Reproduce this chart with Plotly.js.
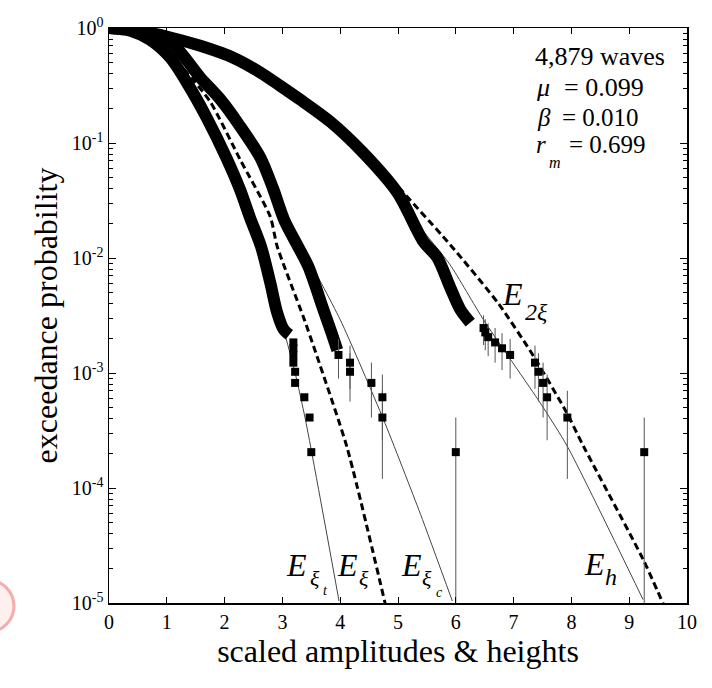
<!DOCTYPE html>
<html>
<head>
<meta charset="utf-8">
<script src="https://cdn.plot.ly/plotly-3.0.1.min.js"></script>
<style>html,body{margin:0;padding:0;background:#fff;}#chart{width:712px;height:688px;}</style>
</head>
<body>
<div id="chart"></div>
<script>
// ---------- data ----------
// empirical exceedance, dense part (troughs, crests, heights)
const troughX = [0, 0.37, 0.71, 1.06, 1.37, 1.69, 2.03, 2.27, 2.44, 2.63, 2.79, 2.91, 3.02, 3.12];
const troughP = [1.0, 0.947, 0.79, 0.552, 0.321, 0.166, 0.0745, 0.039, 0.0224, 0.0126, 0.0061, 0.00334, 0.0024, 0.00215];
const troughTailX = [3.19, 3.19, 3.19, 3.19, 3.22, 3.22, 3.38, 3.47, 3.50];
const troughTailP = [1.845e-3, 1.64e-3, 1.435e-3, 1.23e-3, 1.025e-3, 8.2e-4, 6.15e-4, 4.1e-4, 2.05e-4];

const crestX = [0, 0.54, 1.06, 1.58, 1.93, 2.25, 2.62, 2.84, 3.03, 3.27, 3.45, 3.71, 3.85, 3.95];
const crestP = [1.0, 0.95, 0.76, 0.37, 0.238, 0.144, 0.0745, 0.040, 0.0215, 0.0126, 0.0084, 0.00355, 0.00224, 0.00158];
const crestTailX = [3.97, 4.17, 4.17, 4.54, 4.73, 4.73, 6.0];
const crestTailP = [1.435e-3, 1.23e-3, 1.025e-3, 8.2e-4, 6.15e-4, 4.1e-4, 2.05e-4];
const crestTailErrUp = [5.4e-4, 5.0e-4, 4.6e-4, 4.1e-4, 3.55e-4, 2.9e-4, 2.05e-4];
const crestTailErrDn = [5.4e-4, 5.0e-4, 4.6e-4, 4.1e-4, 3.55e-4, 2.9e-4, 2.04e-4];

const heightX = [0, 0.42, 1.01, 1.58, 2.15, 2.62, 2.96, 3.31, 3.83, 4.40, 4.99, 5.44, 5.68, 5.90, 6.08, 6.25];
const heightP = [1.0, 0.966, 0.84, 0.70, 0.552, 0.41, 0.315, 0.238, 0.153, 0.082, 0.037, 0.0139, 0.0101, 0.0056, 0.00355, 0.00274];
const heightTailX = [6.48, 6.51, 6.56, 6.68, 6.80, 6.94, 7.37, 7.43, 7.51, 7.58, 7.93, 9.26];
const heightTailP = [2.46e-3, 2.255e-3, 2.05e-3, 1.845e-3, 1.64e-3, 1.435e-3, 1.23e-3, 1.025e-3, 8.2e-4, 6.15e-4, 4.1e-4, 2.05e-4];
const heightTailErrUp = [7.1e-4, 6.8e-4, 6.5e-4, 6.15e-4, 5.8e-4, 5.4e-4, 5.0e-4, 4.6e-4, 4.1e-4, 3.55e-4, 2.9e-4, 2.05e-4];
const heightTailErrDn = [7.1e-4, 6.8e-4, 6.5e-4, 6.15e-4, 5.8e-4, 5.4e-4, 5.0e-4, 4.6e-4, 4.1e-4, 3.55e-4, 2.9e-4, 2.04e-4];

// theoretical curves
const eXiX = [0, 0.37, 0.89, 1.32, 1.75, 2.27, 2.79, 2.91, 3.36, 3.60, 4.12, 4.78];
const eXiP = [1.0, 0.93, 0.69, 0.425, 0.229, 0.0716, 0.0229, 0.0126, 0.0031, 0.00139, 2.24e-4, 9.8e-6];
const eXiTX = [0, 0.71, 1.37, 2.03, 2.44, 2.79, 3.02, 3.22, 3.40, 3.98];
const eXiTP = [1.0, 0.79, 0.321, 0.0745, 0.0224, 0.0061, 0.0024, 1.0e-3, 3.9e-4, 1.04e-5];
const eXiCX = [0, 0.54, 1.06, 1.58, 2.25, 2.84, 3.03, 3.36, 4.00, 4.75, 5.39, 5.94];
const eXiCP = [1.0, 0.95, 0.76, 0.37, 0.144, 0.040, 0.023, 0.0118, 0.00291, 3.93e-4, 5.9e-5, 1.04e-5];
const eHX = [0, 1.01, 2.15, 2.96, 3.83, 4.40, 4.99, 5.35, 5.90, 6.48, 7.46, 7.93, 9.24];
const eHP = [1.0, 0.86, 0.56, 0.32, 0.155, 0.085, 0.037, 0.0195, 0.00875, 0.0029, 5.5e-4, 2.3e-4, 1.07e-5];
const e2XiX = [0, 0.96, 1.96, 2.96, 4.0, 4.57, 5.90, 6.74, 7.35, 7.92, 8.21, 9.24, 9.59];
const e2XiP = [1.0, 0.91, 0.62, 0.33, 0.139, 0.0716, 0.0131, 0.0040, 1.39e-3, 4.5e-4, 2.3e-4, 2.4e-5, 9.8e-6];

// axis ticks
const yTickVals = [1, 0.1, 0.01, 0.001, 1e-4, 1e-5];
const yTickText = ['10<sup>0</sup>', '10<sup>-1</sup>', '10<sup>-2</sup>', '10<sup>-3</sup>', '10<sup>-4</sup>', '10<sup>-5</sup>'];
const xTickVals = [0, 1, 2, 3, 4, 5, 6, 7, 8, 9, 10];

// ---------- drawing ----------
const FONT = 'Liberation Serif, Times New Roman, serif';
const thin = {color: '#444', width: 1, shape: 'spline', smoothing: 0.6};
const dashed = {color: '#000', width: 3, dash: '7px,4px', shape: 'spline', smoothing: 0.6};
const band = {color: '#000', width: 12, shape: 'spline', smoothing: 0.8};

const traces = [
  {x: eXiTX, y: eXiTP, mode: 'lines', line: thin},
  {x: eXiCX, y: eXiCP, mode: 'lines', line: thin},
  {x: eHX, y: eHP, mode: 'lines', line: thin},
  {x: eXiX, y: eXiP, mode: 'lines', line: dashed},
  {x: e2XiX, y: e2XiP, mode: 'lines', line: dashed},
  {x: troughX, y: troughP, mode: 'lines', line: band},
  {x: crestX, y: crestP, mode: 'lines', line: band},
  {x: heightX, y: heightP, mode: 'lines', line: band},
  {x: troughTailX, y: troughTailP, mode: 'markers', marker: {symbol: 'square', size: 8, color: '#000'}},
  {x: crestTailX, y: crestTailP, mode: 'markers', marker: {symbol: 'square', size: 8, color: '#000'},
   error_y: {type: 'data', symmetric: false, array: crestTailErrUp, arrayminus: crestTailErrDn, color: '#555', thickness: 1, width: 0}},
  {x: heightTailX, y: heightTailP, mode: 'markers', marker: {symbol: 'square', size: 8, color: '#000'},
   error_y: {type: 'data', symmetric: false, array: heightTailErrUp, arrayminus: heightTailErrDn, color: '#555', thickness: 1, width: 0}}
];
traces.forEach(t => { t.hoverinfo = 'skip'; t.showlegend = false; });

// plot box in pixels (for placing text)
const L = 109, R = 687, T = 28, B = 603;
const px = v => (v - L) / (R - L);
const py = v => (B - v) / (B - T);
function ann(text, x, y, size, italic) {
  const f = {family: FONT, size: size, color: '#000'};
  if (italic) f.style = 'italic';
  return {text: text, xref: 'paper', yref: 'paper', x: px(x), y: py(y),
    xanchor: 'center', yanchor: 'middle', showarrow: false, borderpad: 0, font: f};
}

const minorVals = [];
for (let e = -5; e < 0; e++) for (let m = 2; m <= 9; m++) minorVals.push(m * Math.pow(10, e));

const annotations = [
  ann('4,879 waves', 600, 57, 26),
  ann('μ', 543, 88, 26, true), ann('= 0.099', 604, 88, 26),
  ann('β', 544, 118, 25, true), ann('= 0.010', 600, 118, 25),
  ann('r', 541, 144, 25, true), ann('m', 555, 162, 16, true), ann('= 0.699', 607, 144, 25),
  // curve labels
  ann('E', 296, 565, 32, true), ann('ξ', 315, 578, 22, true), ann('t', 325, 590, 14, true),
  ann('E', 347, 565, 32, true), ann('ξ', 364, 578, 22, true),
  ann('E', 411, 565, 32, true), ann('ξ', 427, 578, 22, true), ann('c', 439, 592, 14, true),
  ann('E', 594, 564, 32, true), ann('h', 611, 577, 24, true),
  ann('E', 512, 294, 32, true), ann('2ξ', 536, 312, 24, true)
];

const layout = {
  width: 712, height: 688,
  margin: {l: L, r: 712 - R, t: T, b: 688 - B},
  paper_bgcolor: '#fff', plot_bgcolor: '#fff',
  showlegend: false,
  font: {family: FONT, color: '#000'},
  xaxis: {
    range: [0, 10], tickmode: 'array', tickvals: xTickVals,
    ticks: 'inside', ticklen: 6, tickwidth: 1, tickcolor: '#000',
    showline: true, linecolor: '#000', linewidth: 1.5, mirror: 'allticks',
    showgrid: false, zeroline: false,
    tickfont: {family: FONT, size: 20, color: '#000'},
    title: {text: 'scaled amplitudes & heights', font: {family: FONT, size: 32, color: '#000'}, standoff: 8}
  },
  yaxis: {
    type: 'log', range: [-5, 0], tickmode: 'array', tickvals: yTickVals, ticktext: yTickText,
    ticks: 'inside', ticklen: 7, tickwidth: 1, tickcolor: '#000',
    minor: {tickmode: 'array', tickvals: minorVals, ticks: 'inside', ticklen: 4, tickwidth: 1, tickcolor: '#000', showgrid: false},
    showline: true, linecolor: '#000', linewidth: 1.5, mirror: 'allticks',
    showgrid: false, zeroline: false,
    tickfont: {family: FONT, size: 20, color: '#000'},
    title: {text: 'exceedance probability', font: {family: FONT, size: 32, color: '#000'}, standoff: 4}
  },
  annotations: annotations,
  shapes: [
    {type: 'circle', xref: 'paper', yref: 'paper', layer: 'above',
     x0: px(-38), x1: px(14), y0: py(632), y1: py(580),
     line: {color: 'rgba(240,110,110,0.55)', width: 3}, fillcolor: 'rgba(255,210,210,0.35)'}
  ]
};

Plotly.newPlot('chart', traces, layout, {staticPlot: true, displayModeBar: false});
</script>
</body>
</html>
